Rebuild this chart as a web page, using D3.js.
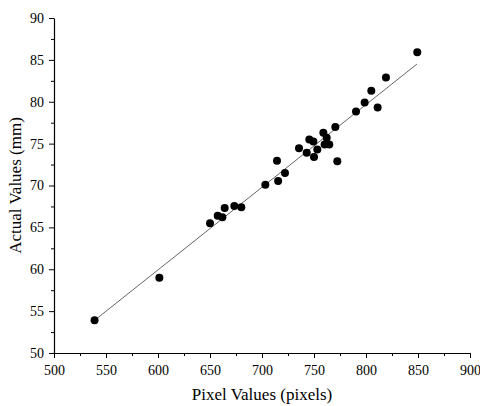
<html>
<script src="https://d3js.org/d3.v7.min.js"></script>
<style>
    body { margin: 0; background: #fff; }
    text { font-family: "Liberation Serif", "Times New Roman", serif; fill: #000; }
</style>
<body>
<svg id="chart" width="480" height="406"></svg>
<script>
    // measured points
    const pixelVals = [539, 601.3, 650, 657.4, 661.9, 664.1, 673.4, 680.1, 703.2, 715.5,
        714.4, 722.1, 735.6, 743, 745.5, 749.4, 750, 753.2, 759, 760.2,
        762.2, 764.7, 770.5, 772.4, 790.4, 798.7, 805.1, 811.2, 819.2, 849.3];
    const actualVals = [53.9, 59, 65.5, 66.4, 66.2, 67.3, 67.55, 67.4, 70.1, 70.55,
        72.95, 71.5, 74.45, 73.9, 75.5, 75.25, 73.4, 74.3, 76.3, 74.9,
        75.7, 74.9, 77, 72.9, 78.85, 79.9, 81.3, 79.3, 82.9, 85.9];

    // fitted line ends
    const fitX = [539, 849];
    const fitY = [53.9, 84.5];

    const xTicks = [500, 550, 600, 650, 700, 750, 800, 850, 900];
    const yTicks = [50, 55, 60, 65, 70, 75, 80, 85, 90];

    var svg = d3.select("#chart");
    var plotLeft = 54, plotRight = 470, plotTop = 18, plotBottom = 353;

    var x = d3.scaleLinear().domain([500, 900]).range([plotLeft, plotRight]);
    var y = d3.scaleLinear().domain([50, 90]).range([plotBottom, plotTop]);

    // minor ticks first
    svg.append("g")
        .attr("transform", "translate(0," + plotBottom + ")")
        .call(d3.axisBottom(x).tickValues(d3.range(525, 900, 50)).tickSize(3).tickFormat(""))
        .call(g => g.select(".domain").remove());
    svg.append("g")
        .attr("transform", "translate(" + plotLeft + ",0)")
        .call(d3.axisLeft(y).tickValues(d3.range(52.5, 90, 5)).tickSize(3).tickFormat(""))
        .call(g => g.select(".domain").remove());

    var xAxis = svg.append("g")
        .attr("transform", "translate(0," + plotBottom + ")")
        .call(d3.axisBottom(x).tickValues(xTicks).tickSize(5).tickSizeOuter(0).tickPadding(7));
    xAxis.selectAll("text").style("font-size", "14px").style("font-family", "Liberation Serif");

    var yAxis = svg.append("g")
        .attr("transform", "translate(" + plotLeft + ",0)")
        .call(d3.axisLeft(y).tickValues(yTicks).tickSize(5).tickSizeOuter(0).tickPadding(5));
    yAxis.selectAll("text").style("font-size", "14px").style("font-family", "Liberation Serif");

    svg.selectAll(".domain").attr("stroke", "#000").attr("stroke-width", 1.2);

    // fit line
    svg.append("line")
        .attr("x1", x(fitX[0])).attr("y1", y(fitY[0]))
        .attr("x2", x(fitX[1])).attr("y2", y(fitY[1]))
        .attr("stroke", "#666")
        .attr("stroke-width", 1);

    svg.append("g").selectAll("circle")
        .data(pixelVals)
        .enter()
        .append("circle")
        .attr("cx", d => x(d))
        .attr("cy", (d, i) => y(actualVals[i]))
        .attr("r", 4)
        .attr("fill", "#000");

    svg.append("text")
        .attr("text-anchor", "middle")
        .attr("x", (plotLeft + plotRight) / 2)
        .attr("y", 400)
        .style("font-size", "17px")
        .text("Pixel Values (pixels)");

    svg.append("text")
        .attr("text-anchor", "middle")
        .attr("transform", "translate(21," + (plotTop + plotBottom) / 2 + ") rotate(-90)")
        .style("font-size", "17px")
        .text("Actual Values (mm)");
</script>
</body>
</html>
